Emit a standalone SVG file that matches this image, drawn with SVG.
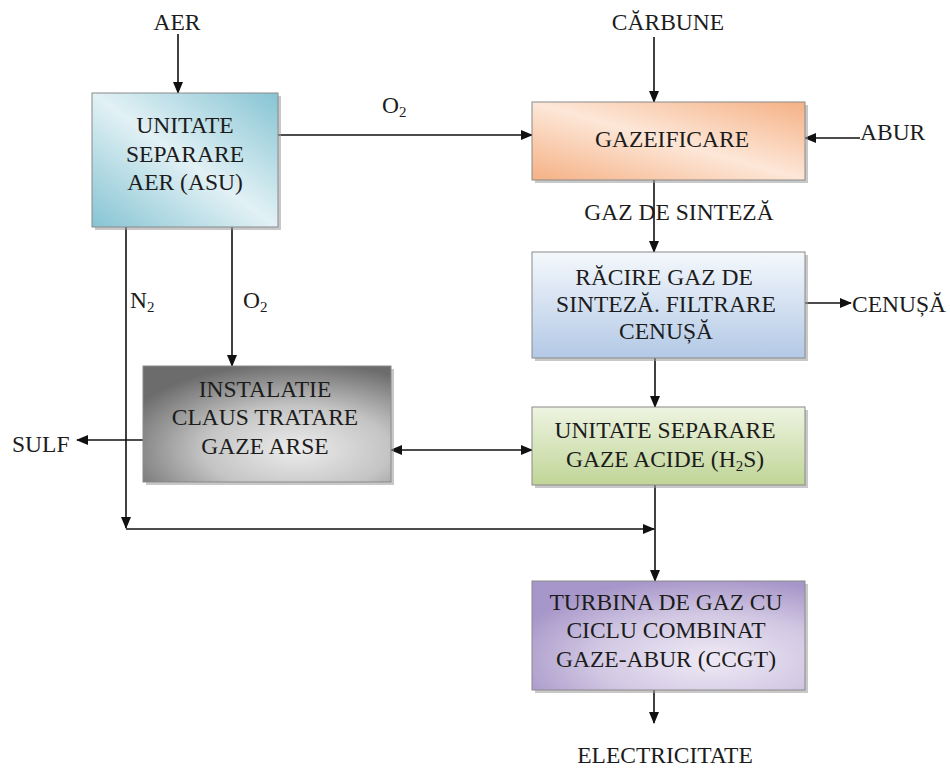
<svg xmlns="http://www.w3.org/2000/svg" width="950" height="770" viewBox="0 0 950 770">
<style>
text{font-family:'Liberation Serif','DejaVu Serif','Noto Serif',serif;font-size:23.5px;fill:#1c1c1c}
.c{text-anchor:middle}
.sub{font-size:15px}
.ln{stroke:#111;stroke-width:1.6;fill:none}
.box{stroke:#8a8a8a;stroke-width:1}
.sh{fill:#9a9a9a;opacity:0.55}
</style>
<defs>
<marker id="ah" markerUnits="userSpaceOnUse" markerWidth="12" markerHeight="10" refX="11" refY="5" orient="auto-start-reverse">
<path d="M0,0 L12,5 L0,10 z" fill="#111"/>
</marker>
<linearGradient id="gAsu" x1="0" y1="1" x2="1" y2="0">
<stop offset="0" stop-color="#86c4d3"/>
<stop offset="0.5" stop-color="#e2f1f5"/>
<stop offset="1" stop-color="#86c4d3"/>
</linearGradient>
<linearGradient id="gGaz" x1="0" y1="1" x2="1" y2="0">
<stop offset="0" stop-color="#f5b185"/>
<stop offset="0.5" stop-color="#fde7d8"/>
<stop offset="1" stop-color="#f5b185"/>
</linearGradient>
<linearGradient id="gRac" x1="0" y1="0" x2="0" y2="1">
<stop offset="0" stop-color="#f4f8fc"/>
<stop offset="1" stop-color="#b3c9e6"/>
</linearGradient>
<linearGradient id="gUsg" x1="0" y1="0" x2="0" y2="1">
<stop offset="0" stop-color="#eef4e1"/>
<stop offset="1" stop-color="#c0d597"/>
</linearGradient>
<radialGradient id="gCla" cx="0.62" cy="0.72" r="0.75">
<stop offset="0" stop-color="#ececec"/>
<stop offset="0.5" stop-color="#c4c4c4"/>
<stop offset="1" stop-color="#6c6c6c"/>
</radialGradient>
<radialGradient id="gCcg" cx="0.65" cy="0.72" r="0.75">
<stop offset="0" stop-color="#efeaf5"/>
<stop offset="0.55" stop-color="#d2c8e3"/>
<stop offset="1" stop-color="#a796c9"/>
</radialGradient>
</defs>

<g id="connectors">
<line class="ln" x1="178" y1="34" x2="178" y2="93" marker-end="url(#ah)"/>
<line class="ln" x1="654" y1="37" x2="654" y2="102" marker-end="url(#ah)"/>
<line class="ln" x1="278" y1="135" x2="532" y2="135" marker-end="url(#ah)"/>
<line class="ln" x1="860" y1="138" x2="805" y2="138" marker-end="url(#ah)"/>
<line class="ln" x1="654" y1="180" x2="654" y2="252" marker-end="url(#ah)"/>
<line class="ln" x1="805" y1="303" x2="851" y2="303" marker-end="url(#ah)"/>
<line class="ln" x1="655" y1="358" x2="655" y2="407" marker-end="url(#ah)"/>
<line class="ln" x1="391" y1="450" x2="532" y2="450" marker-start="url(#ah)" marker-end="url(#ah)"/>
<line class="ln" x1="143" y1="440" x2="77" y2="440" marker-end="url(#ah)"/>
<line class="ln" x1="232" y1="227" x2="232" y2="366" marker-end="url(#ah)"/>
<line class="ln" x1="126" y1="227" x2="126" y2="528" marker-end="url(#ah)"/>
<line class="ln" x1="126" y1="529" x2="654" y2="529" marker-end="url(#ah)"/>
<line class="ln" x1="655" y1="485" x2="655" y2="581" marker-end="url(#ah)"/>
<line class="ln" x1="654" y1="690" x2="654" y2="723" marker-end="url(#ah)"/>
</g>

<g id="labels">
<text class="c" x="177" y="30">AER</text>
<text class="c" x="668" y="30">CĂRBUNE</text>
<text x="860" y="140">ABUR</text>
<text x="382" y="113">O<tspan class="sub" dy="4">2</tspan></text>
<text class="c" x="679" y="220">GAZ DE SINTEZĂ</text>
<text x="852" y="312">CENUȘĂ</text>
<text x="12" y="452">SULF</text>
<text x="130" y="308">N<tspan class="sub" dy="4">2</tspan></text>
<text x="243" y="308">O<tspan class="sub" dy="4">2</tspan></text>
<text class="c" x="665" y="763">ELECTRICITATE</text>
</g>

<g id="asu">
<rect class="sh" x="95" y="96" width="186" height="134"/>
<rect class="box" x="92" y="93" width="186" height="134" fill="url(#gAsu)"/>
<text class="c" x="185" y="133">UNITATE</text>
<text class="c" x="185" y="162">SEPARARE</text>
<text class="c" x="185" y="190">AER (ASU)</text>
</g>

<g id="gazeificare">
<rect class="sh" x="535" y="105" width="273" height="78"/>
<rect class="box" x="532" y="102" width="273" height="78" fill="url(#gGaz)"/>
<text class="c" x="672" y="147">GAZEIFICARE</text>
</g>

<g id="racire">
<rect class="sh" x="535" y="255" width="273" height="106"/>
<rect class="box" x="532" y="252" width="273" height="106" fill="url(#gRac)"/>
<text class="c" x="664" y="285">RĂCIRE GAZ DE</text>
<text class="c" x="666" y="312">SINTEZĂ. FILTRARE</text>
<text class="c" x="666" y="339">CENUȘĂ</text>
</g>

<g id="separare-gaze">
<rect class="sh" x="535" y="410" width="273" height="78"/>
<rect class="box" x="532" y="407" width="273" height="78" fill="url(#gUsg)"/>
<text class="c" x="665" y="438">UNITATE SEPARARE</text>
<text class="c" x="665" y="467">GAZE ACIDE (H<tspan class="sub" dy="4">2</tspan><tspan dy="-4">S)</tspan></text>
</g>

<g id="claus">
<rect class="sh" x="146" y="369" width="248" height="116"/>
<rect class="box" x="143" y="366" width="248" height="116" fill="url(#gCla)"/>
<text class="c" x="265" y="397">INSTALATIE</text>
<text class="c" x="265" y="425">CLAUS TRATARE</text>
<text class="c" x="265" y="454">GAZE ARSE</text>
</g>

<g id="ccgt">
<rect class="sh" x="535" y="584" width="273" height="109"/>
<rect class="box" x="532" y="581" width="273" height="109" fill="url(#gCcg)"/>
<text class="c" x="666" y="610">TURBINA DE GAZ CU</text>
<text class="c" x="666" y="638">CICLU COMBINAT</text>
<text class="c" x="666" y="667">GAZE-ABUR (CCGT)</text>
</g>
</svg>
